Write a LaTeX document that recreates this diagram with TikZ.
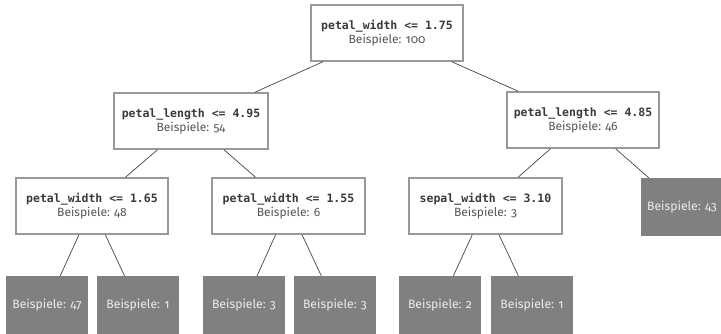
\documentclass[tikz,border=0pt]{standalone}
\usepackage{fontspec}
\setmainfont{Fira Sans}[Numbers=OldStyle]
\newfontfamily\monob{DejaVu Sans Mono}
\definecolor{bordergray}{HTML}{999999}
\definecolor{leafgray}{HTML}{808080}
\definecolor{edgegray}{HTML}{444444}
\definecolor{txtgray}{HTML}{555555}
\definecolor{condgray}{HTML}{3A3A3A}
\newcommand{\cond}[1]{{\monob\fontsize{11.5}{14}\selectfont\bfseries\color{condgray}#1}}
\begin{document}
\begin{tikzpicture}[x=1pt,y=-1pt,
  inner/.style={draw=bordergray,line width=1.4pt,fill=white,minimum width=152pt,minimum height=56pt,inner sep=0pt,align=center,font=\fontsize{12}{14}\selectfont,text=txtgray},
  leaf/.style={fill=leafgray,minimum width=82pt,minimum height=58pt,inner sep=0pt,text=white!93!black,font=\fontsize{12.2}{14}\selectfont},
  edge/.style={draw=edgegray,line width=0.7pt}]
\useasboundingbox (0,0) rectangle (721,333);
\node[inner] (r) at (387,33) {\cond{petal\_width <= 1.75}\\Beispiele: 100};
\node[inner,minimum width=154pt] (l) at (191,121) {\cond{petal\_length <= 4.95}\\Beispiele: 54};
\node[inner] (rr) at (583,120) {\cond{petal\_length <= 4.85}\\Beispiele: 46};
\node[inner] (ll) at (92,206) {\cond{petal\_width <= 1.65}\\Beispiele: 48};
\node[inner,minimum width=153pt] (lr) at (288.5,206) {\cond{petal\_width <= 1.55}\\Beispiele: 6};
\node[inner,minimum width=153pt] (rl) at (485.5,206) {\cond{sepal\_width <= 3.10}\\Beispiele: 3};
\node[leaf] (rrr) at (682,207) {Beispiele: 43};
\node[leaf] (a) at (47,305) {Beispiele: 47};
\node[leaf] (b) at (138,305) {Beispiele: 1};
\node[leaf] (c) at (244,305) {Beispiele: 3};
\node[leaf] (d) at (335,305) {Beispiele: 3};
\node[leaf] (e) at (440,305) {Beispiele: 2};
\node[leaf] (f) at (532,305) {Beispiele: 1};
\draw[edge] (r) -- (l);
\draw[edge] (r) -- (rr);
\draw[edge] (l) -- (ll);
\draw[edge] (l) -- (lr);
\draw[edge] (rr) -- (rl);
\draw[edge] (rr) -- (rrr);
\draw[edge] (ll) -- (a);
\draw[edge] (ll) -- (b);
\draw[edge] (lr) -- (c);
\draw[edge] (lr) -- (d);
\draw[edge] (rl) -- (e);
\draw[edge] (rl) -- (f);
\end{tikzpicture}
\end{document}
